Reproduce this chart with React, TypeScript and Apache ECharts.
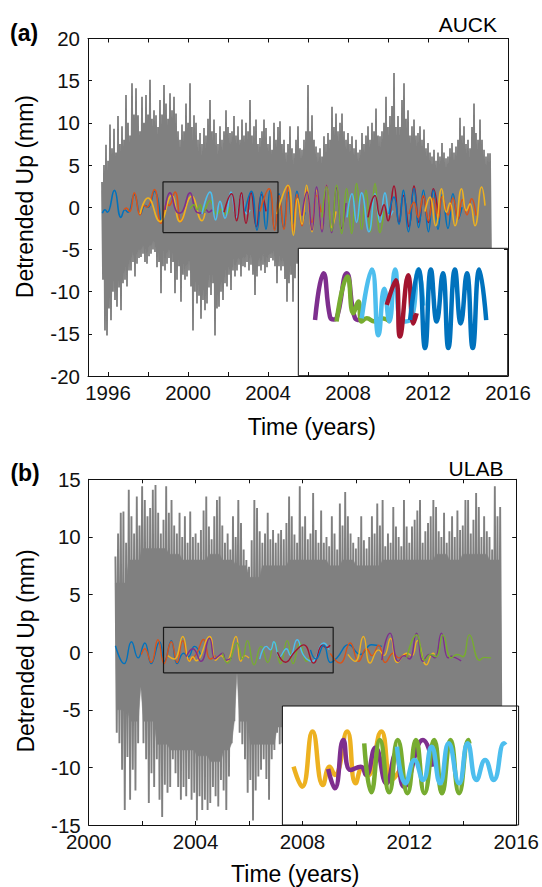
import React, { useEffect, useRef } from "react";
import * as echarts from "echarts";

const FONT = "'Liberation Sans', Arial, Helvetica, sans-serif";
const INK = "#111111";
const GRAY = "#808080";
const C_BLUE = "#0072BD";
const C_ORANGE = "#D95319";
const C_YELLOW = "#EDB120";
const C_PURPLE = "#7E2F8E";
const C_GREEN = "#77AC30";
const C_LBLUE = "#4DBEEE";
const C_DRED = "#A2142F";
const GRAY_STEP = 0.1; // spacing of the high/low columns (years)
const CORE_STEP = 0.5; // spacing of the solid-core limits (years)

// ================= Panel (a) AUCK =================
const auckXRange = [1995, 2016];
const auckYRange = [-20, 20];
const auckXTicks = [1996, 1998, 2000, 2002, 2004, 2006, 2008, 2010, 2012, 2014, 2016];
const auckXLabels = [1996, 2000, 2004, 2008, 2012, 2016];
const auckGrayStart = 1995.7;
const auckGrayHigh = [
  3.0, 5.0, 7.4, 5.5, 9.8, 7.0, 9.3, 6.5, 10.8, 7.5,
  9.6, 8.0, 13.3, 10.0, 8.5, 14.7, 11.0, 14.1, 10.9, 9.0,
  13.1, 10.0, 13.3, 11.0, 15.1, 10.5, 11.5, 10.9, 9.5, 12.7,
  11.0, 14.5, 12.3, 10.5, 13.5, 11.5, 13.1, 11.1, 9.0, 8.0,
  9.8, 9.0, 12.3, 10.0, 14.7, 9.5, 10.9, 10.0, 8.0, 8.8,
  7.5, 9.4, 8.5, 10.5, 12.7, 9.0, 10.4, 8.8, 7.5, 9.6,
  8.0, 9.0, 11.5, 9.5, 8.8, 9.0, 10.8, 8.5, 9.6, 8.0,
  10.4, 8.5, 10.0, 9.0, 12.7, 8.5, 9.6, 10.4, 7.5, 8.2,
  9.0, 10.4, 9.4, 7.5, 8.4, 6.8, 10.0, 8.0, 9.5, 10.2,
  7.5, 8.0, 6.5, 7.5, 9.6, 7.0, 6.4, 8.0, 9.6, 7.0,
  6.8, 8.0, 9.0, 14.5, 9.0, 10.9, 8.0, 7.2, 6.5, 7.0,
  6.0, 8.4, 7.5, 8.8, 8.0, 11.9, 9.5, 11.1, 9.0, 10.0,
  11.1, 9.0, 8.0, 8.8, 7.5, 8.4, 7.0, 8.0, 6.5, 6.8,
  8.8, 7.5, 8.5, 9.6, 8.0, 10.0, 9.0, 11.7, 8.5, 8.4,
  9.0, 10.0, 13.1, 9.5, 10.8, 12.0, 15.9, 9.5, 10.8, 9.5,
  12.7, 14.7, 10.5, 11.5, 8.5, 9.6, 10.4, 8.5, 8.8, 9.6,
  8.0, 9.2, 7.0, 7.6, 6.5, 6.0, 6.8, 5.5, 6.5, 6.0,
  7.6, 6.5, 5.8, 6.0, 7.0, 7.6, 6.5, 7.2, 8.0, 10.6,
  8.5, 9.6, 7.5, 8.0, 7.0, 9.5, 12.3, 8.8, 8.0, 10.4,
  8.0, 6.8, 6.0, 6.4, 6.4,
];
const auckGrayLow = [
  -8.6, -14.6, -15.2, -12.0, -13.4, -10.0, -11.0, -11.8, -9.5, -12.2,
  -9.0, -8.6, -9.4, -7.5, -7.5, -6.5, -8.2, -6.7, -6.0, -5.9,
  -5.5, -6.5, -6.7, -5.8, -5.5, -5.0, -5.3, -7.1, -6.5, -10.2,
  -7.0, -7.5, -6.7, -6.0, -7.8, -6.5, -10.2, -8.6, -7.0, -11.2,
  -8.0, -8.6, -8.2, -7.5, -9.4, -14.6, -10.0, -11.4, -10.5, -13.2,
  -11.0, -12.2, -11.4, -9.5, -10.4, -9.0, -15.2, -12.0, -11.8, -10.0,
  -11.0, -9.0, -9.4, -8.0, -9.8, -7.5, -8.2, -7.5, -6.8, -8.2,
  -7.0, -7.1, -6.5, -7.5, -6.8, -8.0, -10.4, -8.2, -7.0, -7.5,
  -6.8, -7.8, -7.1, -6.5, -6.0, -6.3, -7.0, -9.0, -7.0, -7.5,
  -7.0, -8.5, -11.2, -9.0, -8.0, -11.2, -8.4, -6.7, -7.5, -8.0,
  -7.2, -9.0, -6.5, -8.5, -7.0, -8.8, -6.8, -9.2, -7.5, -8.0,
  -6.6, -8.4, -9.5, -7.0, -8.2, -6.9, -9.0, -7.4, -8.6, -7.1,
  -8.9, -6.7, -7.8, -9.3, -7.2, -8.1, -6.6, -8.7, -7.6, -9.1,
  -7.0, -8.3, -6.8, -9.4, -7.7, -8.0, -6.9, -8.8, -7.3, -8.5,
  -6.7, -9.0, -7.5, -8.2, -7.0, -9.2, -6.8, -8.4, -7.9, -8.6,
  -7.1, -9.3, -6.9, -8.0, -7.4, -8.9, -6.6, -8.3, -7.8, -9.0,
  -7.2, -8.5, -6.8, -9.1, -7.6, -8.1, -6.9, -8.7, -7.3, -8.4,
  -6.7, -9.2, -7.5, -8.0, -7.0, -8.6, -6.8, -9.0, -7.7, -8.3,
  -7.1, -8.8, -6.9, -9.4, -7.4, -8.2, -6.6, -8.5, -7.9, -8.7,
  -7.0, -8.1, -6.8, -7.5, -6.5,
];
// limits of the solid (dense) part of the gray band, every half year
const auckCoreHigh = [
  2.0, 4.5, 5.0, 6.0, 6.0, 6.0, 6.0, 5.5, 5.0, 5.0,
  4.5, 5.0, 4.5, 4.5, 5.0, 5.0, 4.5, 4.0, 4.5, 4.0,
  4.0, 4.5, 4.0, 5.0, 5.0, 4.5, 4.0, 4.5, 5.0, 5.5,
  5.5, 5.0, 4.5, 3.5, 3.5, 3.5, 4.5, 5.0, 4.5, 4.0,
];
const auckCoreLow = [
  -5.0, -7.0, -6.0, -5.0, -4.5, -4.0, -5.0, -5.5, -6.0, -7.0,
  -8.0, -8.0, -7.0, -6.0, -5.5, -6.0, -5.5, -5.0, -6.0, -6.5,
  -6.5, -6.5, -6.5, -6.5, -6.5, -6.5, -6.5, -6.5, -6.5, -6.5,
  -6.5, -6.5, -6.5, -6.5, -6.5, -6.5, -6.5, -6.5, -6.5, -6.5,
];
const auckZoomBox = [1998.75, 2004.5, -3, 3];

// colored reconstructions, main panel (a): [year, mm]
const auckBlue1 = [[1995.72,-0.7],[1995.85,-0.3],[1995.97,-0.6],[1996.32,2.0],[1996.65,-1.2],[1996.85,-0.3],[1997.0,-0.6],[1997.32,1.5],[1997.62,-0.8],[1997.85,0.2],[1998.0,0.0],[1998.32,1.9],[1998.62,-1.6]];
const auckOrange1 = [[1996.8,-0.3],[1996.92,-0.1],[1997.08,-0.5],[1997.32,1.7],[1997.6,-0.9],[1997.8,0.2],[1997.95,0.0],[1998.32,2.1],[1998.65,-1.9],[1998.95,0.4],[1999.05,0.2],[1999.35,1.8],[1999.65,-1.7],[1999.8,-0.8]];
const auckYellow1 = [[1997.6,-0.8],[1998.0,1.1],[1998.6,-1.7],[1999.18,1.4],[1999.6,-1.7],[2000.18,1.3],[2000.7,-1.6],[2000.85,-0.7]];
const auckPurple1 = [[1998.85,-0.3],[1999.1,1.7],[1999.45,-0.6],[1999.6,-0.7],[1999.75,-0.4],[2000.1,1.7],[2000.45,-0.6],[2000.7,-0.7],[2000.9,-0.3],[2001.05,-0.6],[2001.2,-0.3]];
const auckGreen1 = [[2000.1,-0.2],[2000.3,0.3],[2000.45,-0.3],[2000.6,0.3],[2000.75,-0.6],[2001.1,0.8],[2001.45,-0.8],[2001.7,-0.2],[2001.9,-0.8],[2002.1,0.0]];
const auckLBlue1 = [[2000.7,-0.8],[2001.1,1.8],[2001.38,-1.5],[2001.6,0.7],[2001.85,-1.3],[2002.15,1.8],[2002.42,-1.2],[2002.68,1.5],[2002.95,-0.8],[2003.1,-0.3]];
const auckDRed1 = [[2001.8,-0.6],[2002.18,1.6],[2002.43,-1.6],[2002.67,1.7],[2002.9,-1.9],[2003.15,1.7],[2003.42,-2.3],[2003.68,1.5],[2003.9,-0.5]];
const auckBlue2 = [[2002.85,-0.5],[2003.17,1.9],[2003.45,-2.7],[2003.68,1.8],[2003.9,-2.6],[2004.1,2.0],[2004.33,-2.6],[2004.55,1.6],[2004.78,-2.4],[2005.0,1.8],[2005.22,-2.0],[2005.45,1.9],[2005.7,-1.8],[2005.85,-0.6]];
const auckOrange2 = [[2003.6,-0.5],[2004.05,2.2],[2004.33,-2.7],[2004.55,1.4],[2004.8,-2.6],[2005.02,2.6],[2005.25,-2.8],[2005.45,1.5],[2005.7,-2.2],[2005.93,2.0],[2006.2,-1.8],[2006.43,1.4],[2006.65,-0.6]];
const auckYellow2 = [[2004.45,-0.8],[2005.0,2.6],[2005.27,-3.3],[2005.48,1.0],[2005.7,-2.0],[2005.93,2.6],[2006.2,-2.9],[2006.43,2.0],[2006.7,-2.6],[2006.93,2.6],[2007.2,-2.4],[2007.4,-0.5]];
const auckPurple2 = [[2005.7,-1.0],[2005.95,1.8],[2006.2,-2.7],[2006.43,2.4],[2006.7,-2.9],[2006.93,2.6],[2007.18,-3.0],[2007.43,2.3],[2007.68,-2.5],[2007.9,0.5]];
const auckGreen2 = [[2006.7,-1.2],[2006.93,2.4],[2007.18,-2.8],[2007.43,2.6],[2007.68,-3.1],[2007.93,2.2],[2008.18,-3.1],[2008.43,2.8],[2008.68,-2.6],[2008.9,2.0],[2009.12,-2.9],[2009.35,2.8],[2009.6,-3.0],[2009.8,-0.5]];
const auckLBlue2 = [[2007.95,-1.2],[2008.2,1.6],[2008.43,-1.8],[2008.68,1.7],[2009.05,-2.9],[2009.35,1.6],[2009.6,-1.8],[2009.85,1.7],[2010.1,-1.0],[2010.25,-0.4]];
const auckDRed2 = [[2009.0,-1.2],[2009.35,1.4],[2009.6,-1.0],[2009.8,0.3],[2010.0,-1.6],[2010.3,2.5],[2010.55,-1.8],[2010.77,1.4],[2011.05,-2.3],[2011.3,2.5],[2011.55,-1.8],[2011.77,1.3],[2012.02,-1.8],[2012.27,2.2],[2012.5,-0.8]];
const auckBlue3 = [[2010.05,-0.8],[2010.3,1.2],[2010.55,-2.0],[2010.77,2.0],[2011.02,-2.9],[2011.3,2.2],[2011.53,-2.4],[2011.77,2.0],[2012.02,-2.9],[2012.27,2.0],[2012.5,-2.6],[2012.72,1.5],[2013.0,-2.5],[2013.25,1.6],[2013.5,-1.4],[2013.7,0.0]];
const auckOrange3 = [[2011.05,-0.8],[2011.3,0.6],[2011.5,-1.2],[2011.77,1.4],[2012.02,-1.6],[2012.27,1.1],[2012.5,-1.4],[2012.72,1.3],[2013.0,-0.9],[2013.25,1.1],[2013.5,-1.4],[2013.72,0.9],[2013.95,-0.9],[2014.18,1.0],[2014.4,-1.0]];
const auckYellow3 = [[2011.85,-0.5],[2012.1,1.2],[2012.38,-2.2],[2012.68,2.2],[2012.92,-0.6],[2013.1,0.5],[2013.35,-2.2],[2013.68,2.2],[2013.92,-0.4],[2014.1,0.4],[2014.35,-2.2],[2014.68,2.4],[2014.85,0.2]];

// inset (a): zoom of the boxed window
const auckInsetPurple = [[1999.21,-0.38],[1999.44,1.82],[1999.62,-0.22],[1999.72,-0.35],[1999.8,-0.3],[2000.08,1.82],[2000.31,-0.3],[2000.45,-0.38]];
const auckInsetGreen = [[1999.8,-0.45],[2000.1,1.67],[2000.26,-0.06],[2000.4,0.49],[2000.49,-0.45],[2000.63,-0.3],[2000.85,-0.45],[2001.05,-0.3],[2001.27,-0.45]];
const auckInsetLBlue = [[2000.49,-0.3],[2000.77,2.0],[2000.95,-1.1],[2001.11,1.1],[2001.25,-0.45],[2001.41,2.0],[2001.59,-0.45],[2001.82,-0.38],[2002.05,2.0],[2002.18,0.3]];
const auckInsetDRed = [[2001.18,0.33],[2001.43,1.5],[2001.54,-1.15],[2001.77,1.73],[2001.91,-0.54],[2002.0,-0.06]];
const auckInsetBlue = [[2001.82,-0.38],[2002.05,2.0],[2002.23,-1.7],[2002.39,2.0],[2002.55,-0.45],[2002.72,1.82],[2002.87,-1.7],[2003.05,2.0],[2003.21,-0.54],[2003.38,1.82],[2003.54,-1.7],[2003.72,2.0],[2003.91,-0.38]];

// ================= Panel (b) ULAB =================
const ulabXRange = [2000, 2016];
const ulabYRange = [-15, 15];
const ulabXTicks = [2000, 2002, 2004, 2006, 2008, 2010, 2012, 2014, 2016];
const ulabXLabels = [2000, 2004, 2008, 2012, 2016];
const ulabGrayStart = 2001.0;
const ulabGrayHigh = [
  8.3, 10.3, 12.1, 12.2, 9.5, 14.1, 11.8, 10.3, 13.5, 11.0,
  14.4, 13.2, 11.8, 12.5, 14.1, 14.5, 12.1, 10.3, 11.5, 14.4,
  12.1, 13.2, 11.0, 10.3, 12.1, 10.0, 11.8, 9.5, 12.2, 10.0,
  10.3, 9.5, 10.6, 12.3, 13.5, 10.9, 9.8, 11.8, 13.2, 13.5,
  11.0, 9.5, 10.3, 8.9, 11.8, 10.0, 13.2, 11.2, 8.9, 8.0,
  7.4, 9.7, 13.2, 12.5, 10.5, 9.5, 10.3, 12.1, 9.8, 10.6,
  9.5, 10.3, 10.6, 9.8, 11.2, 13.5, 11.8, 10.2, 9.5, 14.4,
  10.9, 11.8, 9.8, 10.3, 13.8, 10.6, 9.5, 12.3, 9.5, 10.0,
  9.2, 11.8, 10.3, 8.9, 12.9, 11.0, 13.9, 11.8, 10.3, 9.5,
  9.0, 10.0, 11.8, 9.7, 9.0, 10.0, 11.8, 10.3, 12.9, 11.0,
  13.2, 9.2, 10.3, 9.5, 12.6, 10.9, 10.0, 9.2, 13.2, 10.9,
  9.5, 10.9, 11.5, 12.3, 13.2, 9.5, 10.5, 11.2, 11.8, 13.2,
  12.6, 10.5, 10.0, 12.1, 9.5, 10.5, 11.8, 10.0, 12.3, 10.6,
  11.0, 13.2, 13.2, 10.3, 11.5, 13.8, 12.6, 10.0, 11.8, 10.5,
  10.0, 8.9, 14.4, 11.8, 12.6,
];
const ulabGrayLow = [
  -7.0, -7.9, -10.2, -13.7, -9.1, -12.8, -10.2, -12.0, -7.9, -3.0,
  -7.9, -9.3, -13.1, -10.5, -11.7, -9.3, -12.8, -14.3, -11.5, -12.2,
  -11.7, -9.3, -10.5, -11.7, -12.8, -11.7, -12.5, -11.0, -12.8, -12.2,
  -14.6, -12.5, -13.7, -12.8, -13.7, -13.1, -11.7, -12.5, -13.4, -11.1,
  -12.0, -13.7, -10.8, -7.9, -6.0, -1.8, -7.0, -8.0, -9.3, -12.2,
  -11.1, -14.6, -12.0, -10.8, -10.2, -9.3, -11.0, -12.8, -9.3, -8.5,
  -7.0, -8.0, -7.9, -9.5, -11.0, -8.5, -10.0, -12.0, -9.0, -10.5,
  -8.0, -11.5, -9.5, -10.8, -8.6, -12.2, -9.2, -10.4, -8.8, -11.0,
  -9.6, -10.2, -8.4, -11.8, -9.0, -10.6, -8.7, -12.0, -9.4, -10.1,
  -8.5, -11.3, -9.8, -10.5, -8.9, -11.9, -9.1, -10.3, -8.6, -11.6,
  -9.7, -10.0, -8.3, -12.1, -9.3, -10.8, -8.8, -11.2, -9.5, -10.4,
  -8.6, -11.7, -9.0, -10.6, -8.4, -12.3, -9.6, -10.2, -8.9, -11.1,
  -9.2, -10.7, -8.5, -11.5, -9.8, -10.1, -8.7, -12.0, -9.1, -10.9,
  -8.8, -11.4, -9.4, -10.3, -8.6, -11.8, -9.7, -10.5, -8.3, -11.0,
  -9.0, -10.2, -8.7, -11.3, -9.5,
];
const ulabCoreHigh = [
  6.0, 8.0, 9.0, 9.0, 8.5, 8.0, 8.0, 8.5, 8.0, 7.5,
  6.5, 7.5, 7.5, 8.0, 8.0, 8.0, 7.5, 8.0, 7.5, 7.5,
  8.0, 8.0, 8.0, 8.0, 8.5, 8.0, 8.5, 8.5, 8.0, 8.0,
];
const ulabCoreLow = [
  -5.0, -6.0, -6.0, -8.0, -8.5, -8.5, -9.0, -9.5, -8.5, -6.0,
  -8.0, -8.0, -6.5, -7.0, -7.0, -7.0, -7.0, -7.0, -7.0, -7.0,
  -7.0, -7.0, -7.0, -7.0, -7.0, -7.0, -7.0, -7.0, -7.0, -7.0,
];
const ulabZoomBox = [2002.8, 2009.15, -1.8, 2.15];

const ulabBlue1 = [[2001.0,0.55],[2001.33,-1.0],[2001.6,0.9],[2001.85,-0.5],[2002.1,0.8],[2002.34,-1.0],[2002.65,0.9],[2002.84,-0.8],[2003.09,1.0],[2003.31,-1.0],[2003.55,-0.1],[2003.72,-0.4],[2003.96,0.5],[2004.2,-0.3]];
const ulabOrange1 = [[2001.97,-0.2],[2002.1,0.3],[2002.34,-0.9],[2002.59,1.07],[2002.82,-1.0],[2003.09,0.9],[2003.31,-0.9],[2003.52,1.0],[2003.77,-0.7],[2004.02,-0.2],[2004.3,1.1],[2004.55,-0.6],[2004.75,-0.3]];
const ulabYellow1 = [[2002.96,-0.3],[2003.2,-0.6],[2003.52,1.36],[2003.77,-0.8],[2003.9,-0.4],[2004.02,-0.75],[2004.52,1.36],[2004.76,-0.7],[2004.95,-0.3],[2005.15,-0.8],[2005.51,1.36],[2005.69,-0.8],[2005.85,-0.3],[2006.0,-0.5]];
const ulabPurple1 = [[2003.65,-0.4],[2003.9,0.3],[2004.2,-0.8],[2004.52,1.2],[2004.72,-0.6],[2004.83,-0.4],[2005.01,-0.1],[2005.14,-0.7],[2005.35,-0.5]];
const ulabGreen1 = [[2005.01,-0.1],[2005.2,-0.95],[2005.55,0.8],[2005.75,-0.6],[2005.94,1.0],[2006.19,-1.1],[2006.45,0.5],[2006.7,-0.9],[2006.95,0.9],[2007.18,-1.0],[2007.43,1.0],[2007.65,-1.0],[2007.9,0.8],[2008.15,-0.8],[2008.3,-0.3]];
const ulabLBlue1 = [[2006.4,-0.6],[2006.65,0.5],[2006.8,0.2],[2006.93,0.9],[2007.15,-0.4],[2007.4,0.3],[2007.55,-0.3],[2007.8,1.07],[2008.05,-0.3],[2008.36,-0.8],[2008.8,0.8],[2009.0,0.2]];
const ulabDRed1 = [[2007.06,0.0],[2007.37,-0.87],[2007.7,0.0],[2008.05,0.63],[2008.42,-0.95],[2008.75,0.6],[2008.9,0.4],[2009.04,0.6]];
const ulabBlue2 = [[2008.3,0.2],[2008.5,-0.6],[2008.8,0.6],[2009.05,-0.9],[2009.29,-0.5],[2009.73,0.64],[2010.16,-0.2],[2010.59,0.64],[2010.97,0.5]];
const ulabOrange2 = [[2009.04,-0.1],[2009.41,-0.95],[2009.79,0.8],[2010.1,-0.8],[2010.4,0.3],[2010.6,-0.3],[2010.85,0.6],[2011.1,-0.9],[2011.4,-0.1],[2011.6,-0.5],[2011.85,-0.2],[2011.96,-0.4]];
const ulabYellow2 = [[2009.7,-0.2],[2009.97,-0.8],[2010.28,1.36],[2010.53,-0.95],[2010.85,0.2],[2011.05,-0.3],[2011.3,1.2],[2011.55,-0.9],[2011.9,-0.1],[2012.1,-0.3],[2012.3,1.0],[2012.64,-1.1],[2012.89,-0.1],[2012.95,-0.2]];
const ulabPurple2 = [[2010.97,-0.7],[2011.28,1.65],[2011.59,-0.8],[2011.8,-0.3],[2012.0,-0.6],[2012.27,1.65],[2012.52,-0.8],[2012.75,-0.2],[2012.95,-0.5],[2013.2,1.65],[2013.45,-0.5],[2013.58,-0.35],[2013.7,-0.46],[2013.94,-0.75]];
const ulabGreen2 = [[2011.9,-0.5],[2012.27,1.5],[2012.58,-0.7],[2012.8,-0.2],[2013.0,-0.4],[2013.26,1.5],[2013.57,-0.5],[2013.8,-0.2],[2014.0,-0.4],[2014.25,1.5],[2014.63,-0.7],[2014.8,-0.45],[2015.06,-0.5]];

const ulabInsetYellow = [[2003.1,-0.06],[2003.33,-1.07],[2003.61,1.71],[2003.89,-0.98],[2004.07,-0.06],[2004.21,-0.48],[2004.54,1.71],[2004.77,-0.9],[2004.95,-0.1],[2005.1,-0.5],[2005.46,1.71],[2005.74,-0.73],[2005.96,-0.23]];
const ulabInsetPurple = [[2004.03,-0.18],[2004.21,-1.15],[2004.44,1.29],[2004.63,-0.23],[2004.91,-0.06],[2005.05,-0.48],[2005.3,0.9],[2005.6,-0.9],[2005.85,0.6],[2006.07,-1.07],[2006.58,1.29],[2006.86,-0.06]];
const ulabInsetGreen = [[2005.0,1.12],[2005.19,-1.35],[2005.42,1.29],[2005.67,-1.35],[2005.9,1.29],[2006.16,-1.4],[2006.39,1.29],[2006.62,-1.4],[2006.88,1.29],[2007.09,-1.4],[2007.32,1.29],[2007.55,-1.4],[2007.8,1.29],[2007.83,1.1]];
const ulabInsetLBlue = [[2005.88,0.95],[2006.11,-0.9],[2006.35,0.28],[2006.58,-0.73],[2006.81,0.95],[2007.04,-0.9],[2007.27,1.12],[2007.55,-0.9],[2007.78,1.12],[2008.02,-0.73],[2008.25,0.28],[2008.48,-0.73],[2008.76,1.12],[2008.8,1.04]];

const insetYRange = [-3, 3];

// ================= helpers =================
// Solid core of the gray band: each column is limited by its own high/low and the half-year core limits.
function grayCore(start: number, hi: number[], lo: number[], coreHi: number[], coreLo: number[], idx: number) {
  const n = Math.min(hi.length, lo.length);
  const per = Math.round(CORE_STEP / GRAY_STEP);
  const upper: number[][] = [];
  const lower: number[][] = [];
  for (let i = 0; i < n; i++) {
    const t = start + i * GRAY_STEP;
    const k = Math.min(Math.floor(i / per), coreHi.length - 1);
    upper.push([t, Math.min(hi[i], coreHi[k])]);
    lower.push([t + GRAY_STEP / 2, Math.max(lo[i], coreLo[Math.min(k, coreLo.length - 1)])]);
  }
  const ring = upper.concat(lower.slice().reverse());
  return {
    type: "custom", xAxisIndex: idx, yAxisIndex: idx, z: 1, silent: true,
    data: [[start, 0]],
    renderItem: (_p: any, api: any) => ({
      type: "polygon",
      shape: { points: ring.map((p) => api.coord(p)) },
      style: { fill: GRAY, stroke: GRAY, lineWidth: 0.5 },
    }),
  };
}

// Spiky streaks: the line runs from each column's high to its low and on to the next high
function grayStreaks(start: number, hi: number[], lo: number[], idx: number, width: number) {
  const n = Math.min(hi.length, lo.length);
  const out: number[][] = [];
  for (let i = 0; i < n; i++) {
    const t = start + i * GRAY_STEP;
    out.push([t, hi[i]]);
    out.push([t + GRAY_STEP / 2, lo[i]]);
  }
  return {
    type: "line", data: out, xAxisIndex: idx, yAxisIndex: idx, symbol: "none", showSymbol: false,
    silent: true, z: 1, lineStyle: { color: GRAY, width, join: "miter", miterLimit: 2 },
  };
}

function boxPath(b: number[]) {
  return [[b[0], b[2]], [b[1], b[2]], [b[1], b[3]], [b[0], b[3]], [b[0], b[2]]];
}

function curve(data: number[][], color: string, width: number, idx: number, z: number) {
  return {
    type: "line", data, xAxisIndex: idx, yAxisIndex: idx, smooth: 0.5,
    symbol: "none", showSymbol: false, silent: true, z,
    lineStyle: { color, width }, itemStyle: { color },
  };
}

const axisLine = { show: true, onZero: false, lineStyle: { color: INK, width: 1 } };
const tickStyle = { color: INK, width: 1 };
const labelStyle = { fontSize: 20.5, fontFamily: FONT, color: INK };

function mainX(grid: number, range: number[], ticks: number[], labels: number[], pos: string, showLabels: boolean) {
  return {
    type: "value", gridIndex: grid, position: pos, min: range[0], max: range[1], z: 10,
    axisLine,
    axisTick: { show: true, inside: true, length: 4, lineStyle: tickStyle, customValues: ticks },
    axisLabel: showLabels
      ? {
          show: true, ...labelStyle, margin: 6, customValues: labels, showMinLabel: true, showMaxLabel: true,
          formatter: (v: number) => String(v),
        }
      : { show: false },
    splitLine: { show: false },
  };
}
function mainY(grid: number, range: number[], pos: string, showLabels: boolean) {
  return {
    type: "value", gridIndex: grid, position: pos, min: range[0], max: range[1], interval: 5, z: 10,
    axisLine,
    axisTick: { show: true, inside: true, length: 4, lineStyle: tickStyle },
    axisLabel: showLabels ? { show: true, ...labelStyle, margin: 8, formatter: (v: number) => String(v) } : { show: false },
    splitLine: { show: false },
  };
}
function insetAxis(grid: number, range: number[]) {
  return { type: "value", gridIndex: grid, min: range[0], max: range[1], show: false, splitLine: { show: false } };
}

function txt(text: string, x: number, y: number, size: number, align: string, extra: any = {}) {
  const { bold, ...rest } = extra;
  return {
    type: "text", x, y, z: 20, silent: true, ...rest,
    style: {
      text, fill: "#000", fontSize: size, fontFamily: FONT, fontWeight: bold ? "bold" : "normal",
      align, verticalAlign: "middle", textAlign: align, textVerticalAlign: "middle",
    },
  };
}

function buildOption() {
  const aColored: [number[][], string][] = [
    [auckBlue1, C_BLUE], [auckOrange1, C_ORANGE], [auckYellow1, C_YELLOW], [auckPurple1, C_PURPLE],
    [auckGreen1, C_GREEN], [auckLBlue1, C_LBLUE], [auckDRed1, C_DRED], [auckBlue2, C_BLUE],
    [auckOrange2, C_ORANGE], [auckYellow2, C_YELLOW], [auckPurple2, C_PURPLE], [auckGreen2, C_GREEN],
    [auckLBlue2, C_LBLUE], [auckDRed2, C_DRED], [auckBlue3, C_BLUE], [auckOrange3, C_ORANGE], [auckYellow3, C_YELLOW],
  ];
  const aInset: [number[][], string][] = [
    [auckInsetPurple, C_PURPLE], [auckInsetGreen, C_GREEN], [auckInsetLBlue, C_LBLUE],
    [auckInsetDRed, C_DRED], [auckInsetBlue, C_BLUE],
  ];
  const bColored: [number[][], string][] = [
    [ulabBlue1, C_BLUE], [ulabOrange1, C_ORANGE], [ulabYellow1, C_YELLOW], [ulabPurple1, C_PURPLE],
    [ulabGreen1, C_GREEN], [ulabLBlue1, C_LBLUE], [ulabDRed1, C_DRED], [ulabBlue2, C_BLUE],
    [ulabOrange2, C_ORANGE], [ulabYellow2, C_YELLOW], [ulabPurple2, C_PURPLE], [ulabGreen2, C_GREEN],
  ];
  const bInset: [number[][], string][] = [
    [ulabInsetYellow, C_YELLOW], [ulabInsetPurple, C_PURPLE], [ulabInsetGreen, C_GREEN], [ulabInsetLBlue, C_LBLUE],
  ];

  const series: any[] = [];
  series.push(grayCore(auckGrayStart, auckGrayHigh, auckGrayLow, auckCoreHigh, auckCoreLow, 0));
  series.push(grayStreaks(auckGrayStart, auckGrayHigh, auckGrayLow, 0, 1.8));
  aColored.forEach(([d, c]) => series.push(curve(d, c, 1.6, 0, 2)));
  series.push({
    type: "line", data: boxPath(auckZoomBox), xAxisIndex: 0, yAxisIndex: 0, symbol: "none", showSymbol: false,
    silent: true, z: 3, lineStyle: { color: "#1a1a1a", width: 1.2 },
  });
  aInset.forEach(([d, c]) => series.push(curve(d, c, 4.5, 1, 6)));

  series.push(grayCore(ulabGrayStart, ulabGrayHigh, ulabGrayLow, ulabCoreHigh, ulabCoreLow, 2));
  series.push(grayStreaks(ulabGrayStart, ulabGrayHigh, ulabGrayLow, 2, 1.9));
  bColored.forEach(([d, c]) => series.push(curve(d, c, 1.4, 2, 2)));
  series.push({
    type: "line", data: boxPath(ulabZoomBox), xAxisIndex: 2, yAxisIndex: 2, symbol: "none", showSymbol: false,
    silent: true, z: 3, lineStyle: { color: "#1a1a1a", width: 1.2 },
  });
  bInset.forEach(([d, c]) => series.push(curve(d, c, 4.5, 3, 6)));

  return {
    animation: false,
    backgroundColor: "#fff",
    grid: [
      { left: 88, top: 38.5, width: 420, height: 337.5 },
      { left: 298.3, top: 248.3, width: 209.4, height: 127.4, show: true, backgroundColor: "#fff", borderColor: INK, borderWidth: 1, z: 4 },
      { left: 88.7, top: 479.3, width: 429.9, height: 345.7 },
      { left: 282.4, top: 706, width: 236.2, height: 119, show: true, backgroundColor: "#fff", borderColor: INK, borderWidth: 1, z: 4 },
    ],
    xAxis: [
      mainX(0, auckXRange, auckXTicks, auckXLabels, "bottom", true),
      insetAxis(1, [auckZoomBox[0], auckZoomBox[1]]),
      mainX(2, ulabXRange, ulabXTicks, ulabXLabels, "bottom", true),
      insetAxis(3, [ulabZoomBox[0], ulabZoomBox[1]]),
      mainX(0, auckXRange, auckXTicks, auckXLabels, "top", false),
      mainX(2, ulabXRange, ulabXTicks, ulabXLabels, "top", false),
    ],
    yAxis: [
      mainY(0, auckYRange, "left", true),
      insetAxis(1, insetYRange),
      mainY(2, ulabYRange, "left", true),
      insetAxis(3, insetYRange),
      mainY(0, auckYRange, "right", false),
      mainY(2, ulabYRange, "right", false),
    ],
    series,
    graphic: [
      txt("(a)", 10, 32.5, 23, "left", { bold: true }),
      txt("AUCK", 497, 24.5, 21, "right"),
      txt("Time (years)", 311.8, 427, 23, "center"),
      txt("Detrended Up (mm)", 24.8, 196.6, 23, "center", { rotation: Math.PI / 2 }),
      txt("(b)", 10.4, 473.3, 23, "left", { bold: true }),
      txt("ULAB", 503.4, 468, 21, "right"),
      txt("Time (years)", 295.2, 874, 23, "center"),
      txt("Detrended Up (mm)", 26.3, 651, 23, "center", { rotation: Math.PI / 2 }),
    ],
  };
}

export default function App() {
  const ref = useRef<HTMLDivElement>(null);
  useEffect(() => {
    if (!ref.current) return;
    const chart = echarts.init(ref.current, undefined, { renderer: "svg" });
    chart.setOption(buildOption() as any);
    return () => chart.dispose();
  }, []);
  return (
    <div
      ref={ref}
      style={{ position: "absolute", left: 0, top: 0, width: 542, height: 887, background: "#fff" }}
    />
  );
}
